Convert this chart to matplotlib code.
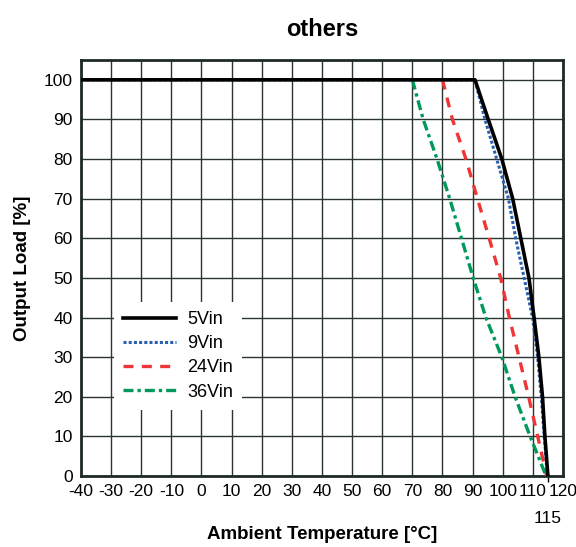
import matplotlib
matplotlib.use('Agg')
import matplotlib.pyplot as plt

plt.rcParams['font.family'] = ['Liberation Sans', 'DejaVu Sans']
plt.rcParams['axes.unicode_minus'] = False

# derating curves
load_pts = [100, 90, 80, 70, 60, 50, 40, 30, 20, 10, 0]

t_5vin = [-40, 90.8, 95.2, 99.7, 103.3, 106, 108.7, 110.4, 112, 113.2, 114, 115]
load_5vin = [100] + load_pts

t_9vin = [-40, 90.8, 94.1, 98, 101.9, 104.3, 107.1, 109.9, 111.6, 112.8, 113.8, 114.8]
load_9vin = [100] + load_pts

t_24vin = [80, 83.3, 87.8, 91.6, 95.5, 99.3, 102.2, 105.4, 108.6, 111.6, 114.6]
load_24vin = load_pts

t_36vin = [70, 73.6, 78.2, 82.4, 86.3, 90.2, 94.4, 99.7, 104.1, 109.1, 114.4]
load_36vin = load_pts

xticks = list(range(-40, 121, 10))
yticks = list(range(0, 101, 10))

fig = plt.figure(figsize=(5.76, 5.47), dpi=100)
ax = fig.add_axes([0.1406, 0.1298, 0.8368, 0.7605])

ax.plot(t_5vin, load_5vin, c='black', lw=2.6, label='5Vin', zorder=5)
ax.plot(t_9vin, load_9vin, c='#2a60b0', lw=2.2, linestyle=(0, (1, 0.7)), label='9Vin', zorder=4)
ax.plot(t_24vin, load_24vin, c='#ee3636', lw=2.4, linestyle=(0, (3, 2.5)), label='24Vin', zorder=4)
ax.plot(t_36vin, load_36vin, c='#00995a', lw=2.4, linestyle=(0, (3, 1.2, 1, 1.2)), label='36Vin', zorder=4)

ax.set_xlim(-40, 120)
ax.set_ylim(0, 105)
ax.set_xticks(xticks)
ax.set_yticks(yticks)
ax.set_xticks([115], labels=['115'], minor=True)
ax.tick_params(axis='both', which='major', length=0, labelsize=12.5, pad=6)
ax.tick_params(axis='x', which='minor', length=4, width=1, labelsize=12.5, pad=21)
ax.grid(True, color='#2a3430', lw=1.0)
ax.set_axisbelow(True)
for s in ax.spines.values():
    s.set_linewidth(2)
    s.set_color('#1e2a26')

ax.set_xlabel('Ambient Temperature [°C]', fontsize=13.5, fontweight='bold', labelpad=0)
ax.set_ylabel('Output Load [%]', fontsize=13.5, fontweight='bold', labelpad=9)
ax.set_title('others', fontsize=17, fontweight='bold', pad=17)

leg = ax.legend(loc='upper left', bbox_to_anchor=(0.05, 0.44), frameon=True,
                fancybox=False, framealpha=1, edgecolor='white', fontsize=13,
                handlelength=2.9, handletextpad=0.65, labelspacing=0.4, borderpad=0.5)
leg.get_frame().set_linewidth(0)

fig.savefig('out.png', dpi=100)
